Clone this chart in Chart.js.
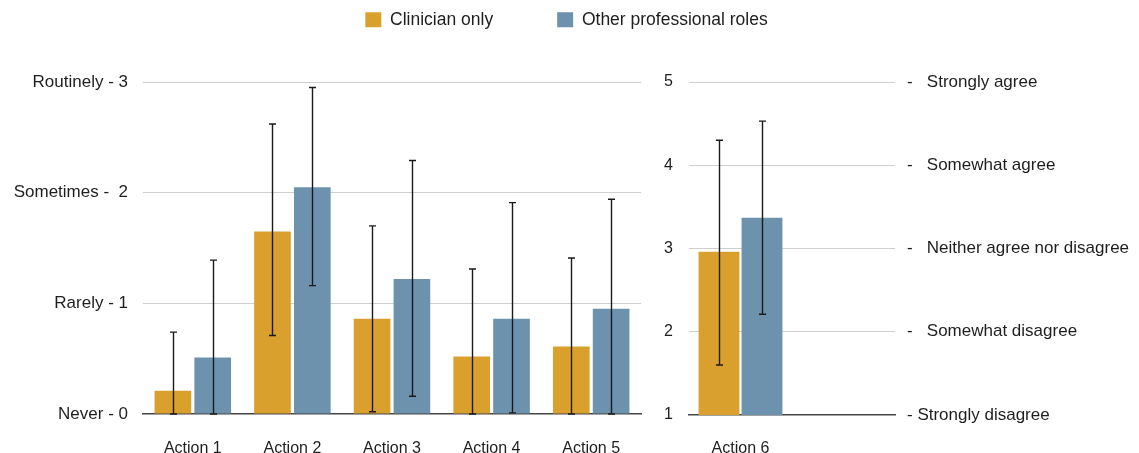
<!DOCTYPE html>
<html>
<head>
<meta charset="utf-8">
<script src="https://cdn.jsdelivr.net/npm/chart.js@4/dist/chart.umd.min.js"></script>
<style>
  html, body { margin: 0; padding: 0; background: #ffffff; }
  #wrap { position: relative; width: 1139px; height: 453px; background: #ffffff; overflow: hidden; }
  canvas { position: absolute; top: 0; }
  #legendCanvas { left: -3px; top: -53px; z-index: 3; pointer-events: none; }
  #frequencyCanvas { left: 0; z-index: 1; }
  #agreementCanvas { left: 641px; z-index: 2; }
</style>
</head>
<body>
<div id="wrap">
  <canvas id="frequencyCanvas" width="642" height="453"></canvas>
  <canvas id="agreementCanvas" width="498" height="453"></canvas>
  <canvas id="legendCanvas" width="1139" height="300"></canvas>
</div>
<script>
// Series names
const seriesNames = ['Clinician only', 'Other professional roles'];

// Frequency items (0 = never ... 3 = routinely)
const frequencyCategories = ['Action 1', 'Action 2', 'Action 3', 'Action 4', 'Action 5'];
const clinicianFrequency = [0.21, 1.65, 0.86, 0.52, 0.61];
const clinicianFrequencyLow = [0, 0.71, 0.02, 0, 0];
const clinicianFrequencyHigh = [0.74, 2.62, 1.70, 1.31, 1.41];
const otherFrequency = [0.51, 2.05, 1.22, 0.86, 0.95];
const otherFrequencyLow = [0, 1.16, 0.16, 0.01, 0];
const otherFrequencyHigh = [1.39, 2.95, 2.29, 1.91, 1.94];
const frequencyTickLabels = ['Never - 0', 'Rarely - 1', 'Sometimes -  2', 'Routinely - 3'];

// Agreement item (1 = strongly disagree ... 5 = strongly agree)
const agreementCategories = ['Action 6', ''];
const clinicianAgreement = [2.96, null];
const clinicianAgreementLow = [1.60, null];
const clinicianAgreementHigh = [4.30, null];
const otherAgreement = [3.37, null];
const otherAgreementLow = [2.21, null];
const otherAgreementHigh = [4.53, null];
const agreementNumberLabels = ['1', '2', '3', '4', '5'];
const agreementTextLabels = ['- Strongly disagree', '-   Somewhat disagree', '-   Neither agree nor disagree', '-   Somewhat agree', '-   Strongly agree'];

const ORANGE = '#D9A02E';
const BLUE = '#6C92AE';
const TEXT = '#1e1e1e';
const GRID = '#cfcfcf';
const BASE = '#444444';

Chart.defaults.font.family = '"Liberation Sans", Arial, Helvetica, sans-serif';
Chart.defaults.font.size = 16;
Chart.defaults.color = TEXT;
Chart.defaults.animation = false;

// Draws whiskers from each dataset's errorLow / errorHigh arrays
const errorBars = {
  id: 'errorBars',
  afterDatasetsDraw(chart) {
    const ctx = chart.ctx;
    const yScale = chart.scales.y;
    ctx.save();
    ctx.strokeStyle = '#1a1a1a';
    ctx.lineWidth = 1.4;
    chart.data.datasets.forEach((ds, i) => {
      const meta = chart.getDatasetMeta(i);
      meta.data.forEach((bar, j) => {
        const lo = ds.errorLow ? ds.errorLow[j] : null;
        const hi = ds.errorHigh ? ds.errorHigh[j] : null;
        if (lo == null || hi == null) return;
        const x = Math.round(bar.x) + 0.5;
        const yLo = yScale.getPixelForValue(lo);
        const yHi = yScale.getPixelForValue(hi);
        ctx.beginPath();
        ctx.moveTo(x, yLo); ctx.lineTo(x, yHi);
        ctx.moveTo(x - 3.5, yHi); ctx.lineTo(x + 3.5, yHi);
        ctx.moveTo(x - 3.5, yLo); ctx.lineTo(x + 3.5, yLo);
        ctx.stroke();
      });
    });
    ctx.restore();
  }
};

function gridColor(minValue) {
  return (c) => (c.tick && c.tick.value === minValue) ? 'rgba(0,0,0,0)' : GRID;
}

// Left panel: frequency of actions
new Chart(document.getElementById('frequencyCanvas'), {
  type: 'bar',
  data: {
    labels: frequencyCategories,
    datasets: [
      { label: seriesNames[0], data: clinicianFrequency, backgroundColor: ORANGE,
        errorLow: clinicianFrequencyLow, errorHigh: clinicianFrequencyHigh },
      { label: seriesNames[1], data: otherFrequency, backgroundColor: BLUE,
        errorLow: otherFrequencyLow, errorHigh: otherFrequencyHigh }
    ]
  },
  options: {
    responsive: false,
    categoryPercentage: 0.80,
    barPercentage: 0.92,
    layout: { padding: { top: 82, right: 1, left: 0, bottom: 0 } },
    plugins: { legend: { display: false }, tooltip: { enabled: false } },
    scales: {
      x: {
        grid: { display: false },
        border: { display: true, color: BASE, width: 1.5 },
        ticks: { padding: 17, color: TEXT, font: { size: 16 } },
        afterFit(scale) { scale.height = 39; }
      },
      y: {
        min: 0, max: 3,
        grid: { color: gridColor(0), lineWidth: 1, drawTicks: false },
        border: { display: false },
        ticks: {
          stepSize: 1, padding: 15, color: TEXT, font: { size: 17 },
          callback: (v) => frequencyTickLabels[v]
        },
        afterFit(scale) { scale.width = 143; }
      }
    }
  },
  plugins: [errorBars]
});

// Right panel: agreement item
new Chart(document.getElementById('agreementCanvas'), {
  type: 'bar',
  data: {
    labels: agreementCategories,
    datasets: [
      { label: seriesNames[0], data: clinicianAgreement, backgroundColor: ORANGE,
        errorLow: clinicianAgreementLow, errorHigh: clinicianAgreementHigh },
      { label: seriesNames[1], data: otherAgreement, backgroundColor: BLUE,
        errorLow: otherAgreementLow, errorHigh: otherAgreementHigh }
    ]
  },
  options: {
    responsive: false,
    categoryPercentage: 0.835,
    barPercentage: 0.95,
    layout: { padding: { top: 82, right: 0, left: 0, bottom: 0 } },
    plugins: { legend: { display: false }, tooltip: { enabled: false } },
    scales: {
      x: {
        grid: { display: false },
        border: { display: true, color: BASE, width: 1.5 },
        ticks: { padding: 16, color: TEXT, font: { size: 16 } },
        afterFit(scale) { scale.height = 38; }
      },
      y: {
        position: 'left',
        min: 1, max: 5,
        grid: { color: gridColor(1), lineWidth: 1, drawTicks: false },
        border: { display: false },
        ticks: {
          stepSize: 1, padding: 16, color: TEXT, font: { size: 16 },
          callback: (v) => agreementNumberLabels[v - 1]
        },
        afterFit(scale) { scale.width = 48; }
      },
      y2: {
        position: 'right',
        min: 1, max: 5,
        grid: { display: false, drawTicks: false },
        border: { display: false },
        ticks: {
          stepSize: 1, padding: 12, color: TEXT, font: { size: 17 },
          callback: (v) => agreementTextLabels[v - 1]
        },
        afterFit(scale) { scale.width = 244; }
      }
    }
  },
  plugins: [errorBars]
});

// Shared legend across both panels
new Chart(document.getElementById('legendCanvas'), {
  type: 'bar',
  data: {
    labels: [],
    datasets: [
      { label: seriesNames[0], data: [], backgroundColor: ORANGE },
      { label: seriesNames[1], data: [], backgroundColor: BLUE }
    ]
  },
  options: {
    responsive: false,
    events: [],
    layout: { padding: 0 },
    plugins: {
      tooltip: { enabled: false },
      legend: {
        display: true,
        position: 'top',
        labels: {
          boxWidth: 16, boxHeight: 15, padding: 64,
          color: TEXT, font: { size: 17.5 }
        }
      }
    },
    scales: { x: { display: false }, y: { display: false } }
  }
});
</script>
</body>
</html>
